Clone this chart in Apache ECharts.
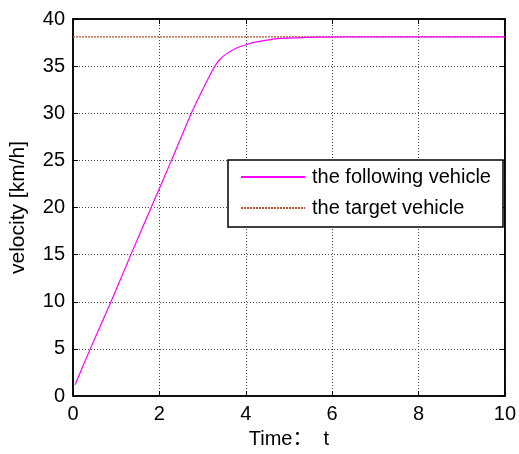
<!DOCTYPE html>
<html>
<head>
<meta charset="utf-8">
<script src="https://cdn.jsdelivr.net/npm/echarts@6/dist/echarts.min.js"></script>
<style>
html,body{margin:0;padding:0;background:#fff;}
#c{width:519px;height:454px;}
</style>
</head>
<body>
<div id="c"></div>
<script>
// Data
var followTime  = [0.05, 0.40, 0.88, 1.34, 1.81, 2.28, 2.74, 3.00, 3.20, 3.30, 3.40, 3.55, 3.78, 4.00, 4.28, 4.68, 5.00, 5.30, 5.66, 7.00, 8.50, 10.00];
var followSpeed = [1.2, 5.0, 10.0, 15.0, 20.0, 25.0, 30.0, 32.5, 34.3, 35.1, 35.7, 36.3, 36.9, 37.27, 37.6, 37.9, 37.98, 38.03, 38.08, 38.1, 38.1, 38.1];
var targetTime  = [0, 10];
var targetSpeed = [38.1, 38.1];
var xTicks = [0, 2, 4, 6, 8, 10];
var yTicks = [0, 5, 10, 15, 20, 25, 30, 35, 40];
var seriesNames = ['the following vehicle', 'the target vehicle'];

function pairs(xs, ys){ return xs.map(function(x,i){ return [x, ys[i]]; }); }

var FONT = '"Liberation Sans", Arial, "Noto Sans CJK SC", sans-serif';
var chart = echarts.init(document.getElementById('c'), null, {renderer:'canvas'});
var gridLine = {show:true, lineStyle:{color:'#444', type:[1,2], width:1}};
var tickIn = {show:true, inside:true, length:5, lineStyle:{color:'#000', width:1}};
chart.setOption({
  animation:false,
  backgroundColor:'#fff',
  grid:{left:72, right:11, top:19, bottom:53, show:true, borderColor:'#000', borderWidth:1.5, backgroundColor:'transparent'},
  xAxis:[{
    type:'value', min:xTicks[0], max:xTicks[xTicks.length-1], interval:2,
    name:'Time：  t', nameLocation:'middle', nameGap:33,
    nameTextStyle:{fontFamily:FONT, fontSize:20, color:'#000'},
    axisLine:{show:true, onZero:false, lineStyle:{color:'#000', width:1.5}},
    axisTick:tickIn,
    axisLabel:{fontFamily:FONT, fontSize:20, color:'#000', margin:8},
    splitLine:gridLine
  },{
    type:'value', position:'top', min:xTicks[0], max:xTicks[xTicks.length-1], interval:2,
    axisLine:{show:true, onZero:false, lineStyle:{color:'#000', width:1.5}},
    axisTick:tickIn, axisLabel:{show:false}, splitLine:{show:false}
  }],
  yAxis:[{
    type:'value', min:yTicks[0], max:yTicks[yTicks.length-1], interval:5,
    name:'velocity [km/h]', nameLocation:'middle', nameGap:44,
    nameTextStyle:{fontFamily:FONT, fontSize:21, color:'#000'},
    axisLine:{show:true, onZero:false, lineStyle:{color:'#000', width:1.5}},
    axisTick:tickIn,
    axisLabel:{fontFamily:FONT, fontSize:20, color:'#000', margin:8},
    splitLine:gridLine
  },{
    type:'value', position:'right', min:yTicks[0], max:yTicks[yTicks.length-1], interval:5,
    axisLine:{show:true, onZero:false, lineStyle:{color:'#000', width:1.5}},
    axisTick:tickIn, axisLabel:{show:false}, splitLine:{show:false}
  }],
  legend:{
    orient:'vertical', left:228, top:160, width:240,
    padding:[7, 12, 9, 12],
    backgroundColor:'#fff', borderColor:'#000', borderWidth:1.5,
    itemWidth:64, itemHeight:14, itemGap:11,
    itemStyle:{opacity:0},
    textStyle:{fontFamily:FONT, fontSize:20, color:'#000', lineHeight:20, padding:[0,0,0,2]},
    data:seriesNames
  },
  series:[{
    name:seriesNames[0], type:'line', data:pairs(followTime, followSpeed),
    symbol:'none', smooth:0.25, lineStyle:{color:'#ff00ff', width:1.2}, itemStyle:{color:'#ff00ff'}, z:3
  },{
    name:seriesNames[1], type:'line', data:pairs(targetTime, targetSpeed),
    symbol:'none', lineStyle:{color:'#b0522c', width:1.2, type:[2,1]}, itemStyle:{color:'#b0522c'}, z:2
  }]
});
</script>
</body>
</html>
